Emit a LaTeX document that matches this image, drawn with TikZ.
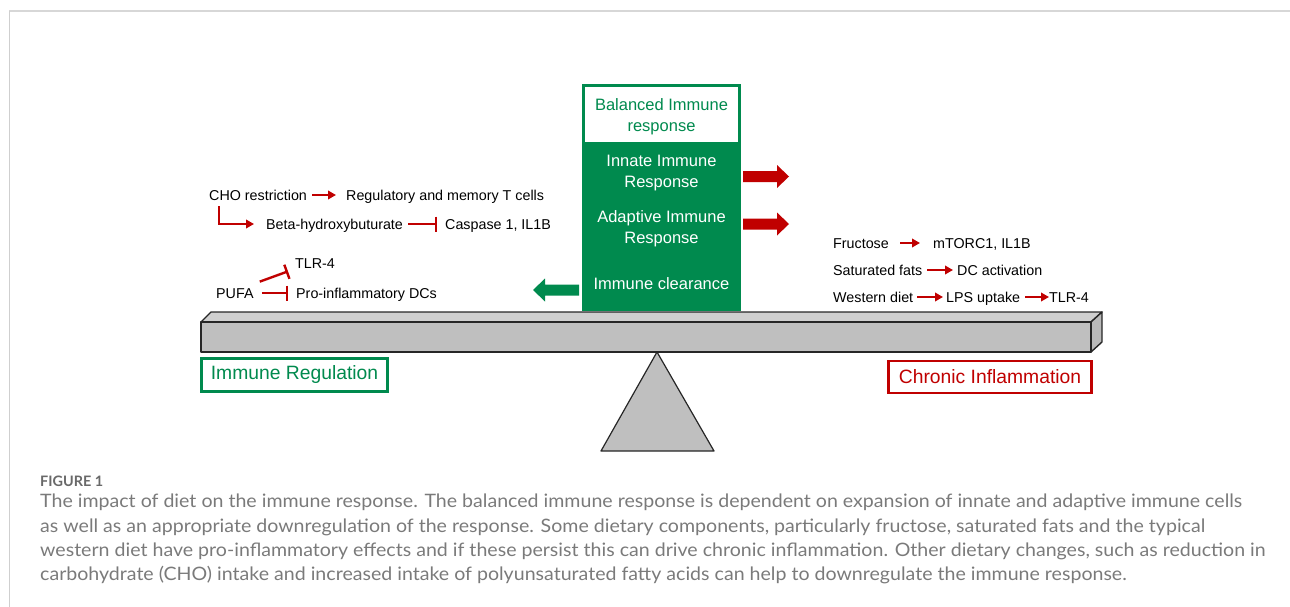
\documentclass[tikz,border=0pt]{standalone}
\usepackage{fontspec}
\setmainfont{Liberation Sans}
\newfontfamily\capfont{Lato}
\usetikzlibrary{arrows.meta}
\definecolor{igreen}{RGB}{0,138,78}
\definecolor{ired}{RGB}{192,0,0}
\definecolor{capgray}{RGB}{122,122,122}
\definecolor{figgray}{RGB}{105,105,105}
\definecolor{framegray}{RGB}{215,215,215}
\newlength\caplen
\begin{document}
\settowidth\caplen{\capfont\fontsize{18.5}{24}\selectfont The impact of diet on the immune response. The balanced immune response is dependent on expansion of innate and adaptive immune cells}%
\pgfmathsetmacro\capsx{1202/\caplen}%
\begin{tikzpicture}[x=1pt,y=-1pt,
  txt/.style={inner sep=0pt,anchor=west,text height=10.3pt,text depth=0pt,font=\fontsize{14.3}{16}\selectfont},
  rarr/.style={draw=ired,line width=2.4pt,-{Triangle[length=8pt,width=8.5pt]}},
  rbar/.style={draw=ired,line width=2.4pt,-{Bar[width=15pt]}},
  boxtxt/.style={font=\fontsize{16.5}{21}\selectfont,align=center,inner sep=0pt},
  labbox/.style={draw,line width=2.5pt,fill=white,inner sep=0pt,font=\fontsize{19.3}{22}\selectfont},
  capline/.style={anchor=west,inner sep=0pt,text=capgray,font=\capfont\fontsize{18.5}{24}\selectfont},
  beamline/.style={draw=black!85,line width=1.4pt,line join=round}]
\useasboundingbox (0,0) rectangle (1290,607);
% frame
\draw[framegray,line width=2pt] (9,11) -- (1290,11);
\draw[framegray!120,line width=1pt] (9,11) -- (9,607);
% beam
\filldraw[beamline,fill=black!19] (201,322) -- (211,312) -- (1102,312) -- (1091,322) -- cycle;
\filldraw[beamline,fill=black!27] (1091,322) -- (1102,312) -- (1102,342) -- (1091,352) -- cycle;
\filldraw[beamline,fill=black!25] (201,322) rectangle (1091,352);
% fulcrum
\filldraw[draw=black!85,line width=1.2pt,fill=black!25,line join=round] (657,352) -- (714,451) -- (601,451) -- cycle;
% central green box
\fill[igreen] (582,84) rectangle (741,311);
\fill[white] (585,87) rectangle (738,142);
\node[boxtxt,text=igreen] (bal) at (661.5,117) {Balanced Immune\\response};
\node[boxtxt,text=white] (inn) at (661.5,173) {Innate Immune\\Response};
\node[boxtxt,text=white] (ada) at (661.5,229) {Adaptive Immune\\Response};
\node[boxtxt,text=white] (clr) at (661.5,284) {Immune clearance};
% block arrows
\fill[ired] (743,171) -- (777,171) -- (777,165) -- (789,176.5) -- (777,188) -- (777,182) -- (743,182) -- cycle;
\fill[ired] (743,218.5) -- (777,218.5) -- (777,212.5) -- (789,224) -- (777,235.5) -- (777,229.5) -- (743,229.5) -- cycle;
\fill[igreen] (579,284.5) -- (545,284.5) -- (545,278.5) -- (533,290) -- (545,301.5) -- (545,295.5) -- (579,295.5) -- cycle;
% left texts
\node[txt] (cho) at (209,195) {CHO restriction};
\node[txt] (reg) at (346,195) {Regulatory and memory T cells};
\node[txt] (beta) at (266,224) {Beta-hydroxybuturate};
\node[txt] (casp) at (445,224) {Caspase 1, IL1B};
\node[txt] (tlra) at (295,263) {TLR-4};
\node[txt] (pufa) at (216,293) {PUFA};
\node[txt] (pdc) at (296,293) {Pro-inflammatory DCs};
\draw[rarr] ([xshift=5pt]cho.east) -- ([xshift=-10pt]reg.west);
\draw[rarr] ([xshift=10pt,yshift=-6pt]cho.south west) |- ([xshift=-12pt]beta.west);
\draw[rbar] ([xshift=5pt]beta.east) -- ([xshift=-8pt]casp.west);
\draw[rbar] ([xshift=6pt,yshift=6pt]pufa.north east) -- ([xshift=-7pt,yshift=-3pt]tlra.south west);
\draw[rbar] ([xshift=8pt]pufa.east) -- ([xshift=-8pt]pdc.west);
% right texts
\node[txt] (fru) at (833,243) {Fructose};
\node[txt] (mtor) at (933,243) {mTORC1, IL1B};
\node[txt] (sat) at (833,270) {Saturated fats};
\node[txt] (dca) at (957,270) {DC activation};
\node[txt] (wes) at (833,297) {Western diet};
\node[txt] (lps) at (946,297) {LPS uptake};
\node[txt] (tlrb) at (1049,297) {TLR-4};
\draw[rarr] ([xshift=11pt]fru.east) -- ([xshift=-13pt]mtor.west);
\draw[rarr] ([xshift=5pt]sat.east) -- ([xshift=-4pt]dca.west);
\draw[rarr] ([xshift=4pt]wes.east) -- ([xshift=-3pt]lps.west);
\draw[rarr] ([xshift=5pt]lps.east) -- (tlrb.west);
% label boxes
\node[labbox,draw=igreen,text=igreen,minimum width=186pt,minimum height=33pt] (ireg) at (294.5,375) {Immune Regulation};
\node[labbox,draw=ired,text=ired,minimum width=203pt,minimum height=32pt] (chr) at (990,377) {Chronic Inflammation};
% caption
\node[anchor=west,inner sep=0pt,text=figgray,font=\capfont\bfseries\fontsize{13}{15}\selectfont] (fig) at (40,481) {\resizebox{63pt}{!}{FIGURE 1}};
\node[capline] (c1) at (40,502) {\scalebox{\capsx}[1]{The impact of diet on the immune response. The balanced immune response is dependent on expansion of innate and adaptive immune cells}};
\node[capline] (c2) at (40,527) {\scalebox{\capsx}[1]{as well as an appropriate downregulation of the response. Some dietary components, particularly fructose, saturated fats and the typical}};
\node[capline] (c3) at (40,551) {\scalebox{\capsx}[1]{western diet have pro-inflammatory effects and if these persist this can drive chronic inflammation. Other dietary changes, such as reduction in}};
\node[capline] (c4) at (40,575) {\scalebox{\capsx}[1]{carbohydrate (CHO) intake and increased intake of polyunsaturated fatty acids can help to downregulate the immune response.}};
\end{tikzpicture}
\end{document}
